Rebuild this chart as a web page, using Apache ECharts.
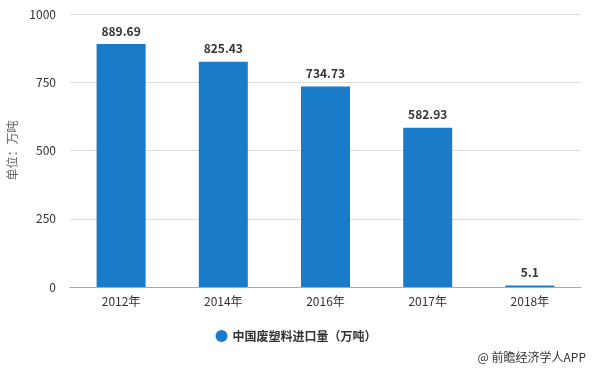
<!DOCTYPE html>
<html>
<head>
<meta charset="utf-8">
<script src="https://cdn.jsdelivr.net/npm/echarts@6/dist/echarts.min.js"></script>
<style>html,body{margin:0;padding:0;background:#fff;}#c{width:592px;height:369px;}</style>
</head>
<body>
<div id="c"></div>
<script>
const categories = ['2012年', '2014年', '2016年', '2017年', '2018年'];
const values = [889.69, 825.43, 734.73, 582.93, 5.1];
const seriesName = '中国废塑料进口量（万吨）';
const yTicks = [0, 250, 500, 750, 1000];
const yAxisName = '单位：万吨';
const sourceText = '@ 前瞻经济学人APP';

const FONT = '"Noto Sans CJK SC", "Microsoft YaHei", sans-serif';
const chart = echarts.init(document.getElementById('c'), null, {renderer: 'canvas'});
chart.setOption({
  animation: false,
  textStyle: {fontFamily: FONT},
  grid: {left: 70, right: 11, top: 14, bottom: 82, containLabel: false, outerBoundsMode: 'none'},
  legend: {
    bottom: 22, left: 'center',
    icon: 'circle', itemWidth: 12, itemHeight: 12, itemGap: 10,
    textStyle: {color: '#333', fontSize: 12, fontWeight: 'bold', fontFamily: FONT},
    data: [seriesName]
  },
  xAxis: {
    type: 'category',
    data: categories,
    axisLine: {lineStyle: {color: '#aaa'}},
    axisTick: {alignWithLabel: true, lineStyle: {color: '#aaa'}, length: 5},
    axisLabel: {color: '#333', fontSize: 12, margin: 8, fontFamily: FONT}
  },
  yAxis: {
    type: 'value',
    min: yTicks[0], max: yTicks[yTicks.length - 1], interval: 250,
    name: yAxisName,
    nameLocation: 'middle',
    nameGap: 50,
    nameTextStyle: {color: '#666', fontSize: 12, fontFamily: FONT},
    axisLine: {show: false},
    axisTick: {show: false},
    axisLabel: {color: '#333', fontSize: 12, margin: 14, fontFamily: FONT, formatter: function (v) { return String(v); }},
    splitLine: {lineStyle: {color: '#ddd'}}
  },
  series: [{
    name: seriesName,
    type: 'bar',
    data: values,
    barWidth: 49,
    itemStyle: {color: '#1a7bc9'},
    label: {
      show: true, position: 'top', distance: 7,
      color: '#333', fontWeight: 'bold', fontSize: 12, fontFamily: FONT
    }
  }],
  graphic: [{
    type: 'text', right: 6, bottom: 6,
    style: {text: sourceText, fill: '#333', fontSize: 12, fontFamily: FONT}
  }]
});
</script>
</body>
</html>
